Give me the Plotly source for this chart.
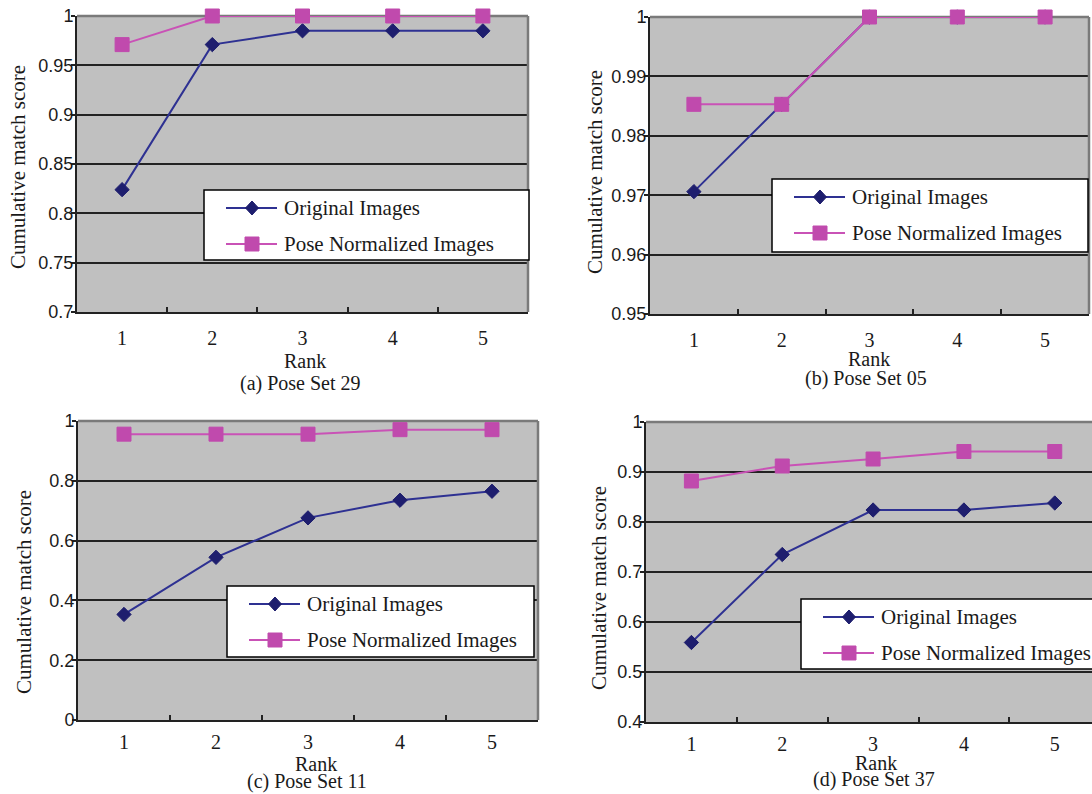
import plotly.graph_objects as go

W, H = 1092, 794

# ---- data -------------------------------------------------------------
ranks = ["1", "2", "3", "4", "5"]
series_names = ["Original Images", "Pose Normalized Images"]
captions = ["(a) Pose Set 29", "(b) Pose Set 05", "(c) Pose Set 11", "(d) Pose Set 37"]

orig_29 = [0.824, 0.971, 0.985, 0.985, 0.985]
norm_29 = [0.971, 1.0, 1.0, 1.0, 1.0]

orig_05 = [0.9706, 0.9853, 1.0, 1.0, 1.0]
norm_05 = [0.9853, 0.9853, 1.0, 1.0, 1.0]

orig_11 = [0.353, 0.544, 0.676, 0.735, 0.765]
norm_11 = [0.956, 0.956, 0.956, 0.971, 0.971]

orig_37 = [0.559, 0.735, 0.824, 0.824, 0.838]
norm_37 = [0.882, 0.912, 0.926, 0.941, 0.941]

yticks_29 = [0.7, 0.75, 0.8, 0.85, 0.9, 0.95, 1.0]
ylabels_29 = ["0.7", "0.75", "0.8", "0.85", "0.9", "0.95", "1"]
yticks_05 = [0.95, 0.96, 0.97, 0.98, 0.99, 1.0]
ylabels_05 = ["0.95", "0.96", "0.97", "0.98", "0.99", "1"]
yticks_11 = [0, 0.2, 0.4, 0.6, 0.8, 1.0]
ylabels_11 = ["0", "0.2", "0.4", "0.6", "0.8", "1"]
yticks_37 = [0.4, 0.5, 0.6, 0.7, 0.8, 0.9, 1.0]
ylabels_37 = ["0.4", "0.5", "0.6", "0.7", "0.8", "0.9", "1"]

# ---- styling ----------------------------------------------------------
BLUE_LINE = "#2E3192"
BLUE_MARK = "#1E1E6E"
PINK_LINE = "#C952B6"
PINK_MARK = "#C04AAD"
PLOT_BG = "#C0C0C0"
AXIS_DARK = "#222222"
BORDER_GRAY = "#7A7A7A"
SERIF = "Liberation Serif"
SANS = "Liberation Sans"
TEXT = "#1A1A1A"


def fx(px):
    return px / W


def fy(py):
    return 1 - py / H


# panel geometry in pixels: plot box, visible x-range end, label anchors, legend box
panels = [
    dict(orig=orig_29, norm=norm_29, ticks=yticks_29, labels=ylabels_29,
         box=(77, 16, 528, 312), xend=4.5, standoff=7,
         ytitle=(18, 167), rank=(305, 361), cap=(300, 383),
         legend=(204, 190, 529, 260)),
    dict(orig=orig_05, norm=norm_05, ticks=yticks_05, labels=ylabels_05,
         box=(650, 17, 1089, 314), xend=4.5, standoff=7,
         ytitle=(595, 172), rank=(869, 359), cap=(866, 379),
         legend=(772, 179, 1088, 252)),
    dict(orig=orig_11, norm=norm_11, ticks=yticks_11, labels=ylabels_11,
         box=(78, 421, 538, 720), xend=4.5, standoff=3,
         ytitle=(24, 592), rank=(316, 764), cap=(307, 781),
         legend=(227, 586, 534, 657)),
    dict(orig=orig_37, norm=norm_37, ticks=yticks_37, labels=ylabels_37,
         box=(646, 422, 1100, 722), xend=4.41, standoff=3,
         ytitle=(599, 588), rank=(876, 763), cap=(874, 779),
         legend=(801, 599, 1100, 669)),
]

fig = go.Figure()
shapes = []
annotations = []
layout_axes = {}

for i, p in enumerate(panels, start=1):
    sfx = "" if i == 1 else str(i)
    xa, ya = "x" + sfx, "y" + sfx
    x0, y0, x1, y1 = p["box"]

    fig.add_trace(go.Scatter(
        x=ranks, y=p["orig"], name=series_names[0], mode="lines+markers",
        xaxis=xa, yaxis=ya, showlegend=False, cliponaxis=False,
        line=dict(color=BLUE_LINE, width=2),
        marker=dict(symbol="diamond", size=11, color=BLUE_MARK,
                    line=dict(color=BLUE_MARK, width=1)),
    ))
    fig.add_trace(go.Scatter(
        x=ranks, y=p["norm"], name=series_names[1], mode="lines+markers",
        xaxis=xa, yaxis=ya, showlegend=False, cliponaxis=False,
        line=dict(color=PINK_LINE, width=2),
        marker=dict(symbol="square", size=14, color=PINK_MARK,
                    line=dict(color=PINK_MARK, width=1)),
    ))

    layout_axes["xaxis" + sfx] = dict(
        domain=[fx(x0), fx(min(x1, W))], anchor=ya, type="category",
        range=[-0.5, p["xend"]], showgrid=False, zeroline=False,
        automargin=False,
        showline=True, linecolor=AXIS_DARK, linewidth=2,
        ticks="inside", tickson="boundaries", ticklen=5, tickwidth=1.5,
        tickcolor=AXIS_DARK, ticklabelstandoff=p["standoff"],
        tickfont=dict(family=SERIF, size=20, color=TEXT),
    )
    layout_axes["yaxis" + sfx] = dict(
        domain=[fy(y1), fy(y0)], anchor=xa,
        range=[p["ticks"][0], p["ticks"][-1]],
        tickmode="array", tickvals=p["ticks"], ticktext=p["labels"],
        automargin=False,
        showgrid=True, gridcolor=AXIS_DARK, gridwidth=1.8, zeroline=False,
        showline=True, linecolor=AXIS_DARK, linewidth=2,
        ticks="outside", ticklen=4, tickwidth=1.5, tickcolor=AXIS_DARK,
        ticklabelstandoff=-6,
        tickfont=dict(family=SANS, size=18, color=TEXT),
    )

    # gray frame along the top and right edges of the plot area
    shapes.append(dict(
        type="line", xref="paper", yref="paper",
        x0=fx(x0), x1=fx(min(x1, W)), y0=fy(y0), y1=fy(y0),
        line=dict(color=BORDER_GRAY, width=2.5), layer="below",
    ))
    if x1 <= W:
        shapes.append(dict(
            type="line", xref="paper", yref="paper",
            x0=fx(x1), x1=fx(x1), y0=fy(y0), y1=fy(y1),
            line=dict(color=BORDER_GRAY, width=2.5), layer="above",
        ))

    # axis titles and caption
    annotations.append(dict(
        text="Cumulative match score", textangle=-90, showarrow=False,
        xref="paper", yref="paper", x=fx(p["ytitle"][0]), y=fy(p["ytitle"][1]),
        xanchor="center", yanchor="middle",
        font=dict(family=SERIF, size=21, color=TEXT),
    ))
    annotations.append(dict(
        text="Rank", showarrow=False, xref="paper", yref="paper",
        x=fx(p["rank"][0]), y=fy(p["rank"][1]), xanchor="center", yanchor="middle",
        font=dict(family=SERIF, size=20, color=TEXT),
    ))
    annotations.append(dict(
        text=captions[i - 1], showarrow=False, xref="paper", yref="paper",
        x=fx(p["cap"][0]), y=fy(p["cap"][1]), xanchor="center", yanchor="middle",
        font=dict(family=SERIF, size=20, color=TEXT),
    ))

    # legend box
    lx0, ly0, lx1, ly1 = p["legend"]
    shapes.append(dict(
        type="rect", xref="paper", yref="paper",
        x0=fx(lx0), x1=fx(lx1), y0=fy(ly1), y1=fy(ly0),
        fillcolor="white", line=dict(color="black", width=1.5), layer="above",
    ))
    rows = [ly0 + 18, ly0 + 54]
    colors = [(BLUE_LINE, BLUE_MARK), (PINK_LINE, PINK_MARK)]
    for k, ry in enumerate(rows):
        lc, mc = colors[k]
        shapes.append(dict(
            type="line", xref="paper", yref="paper",
            x0=fx(lx0 + 22), x1=fx(lx0 + 73), y0=fy(ry), y1=fy(ry),
            line=dict(color=lc, width=2), layer="above",
        ))
        cx = lx0 + 48
        if k == 0:
            path = "M {:.5f},{:.5f} L {:.5f},{:.5f} L {:.5f},{:.5f} L {:.5f},{:.5f} Z".format(
                fx(cx - 6.5), fy(ry), fx(cx), fy(ry - 7),
                fx(cx + 6.5), fy(ry), fx(cx), fy(ry + 7))
            shapes.append(dict(type="path", xref="paper", yref="paper", path=path,
                               fillcolor=mc, line=dict(color=mc, width=1), layer="above"))
        else:
            shapes.append(dict(
                type="rect", xref="paper", yref="paper",
                x0=fx(cx - 7), x1=fx(cx + 7), y0=fy(ry + 7), y1=fy(ry - 7),
                fillcolor=mc, line=dict(color=mc, width=1), layer="above",
            ))
        annotations.append(dict(
            text=series_names[k], showarrow=False, xref="paper", yref="paper",
            x=fx(lx0 + 78), y=fy(ry), xanchor="left", yanchor="middle",
            font=dict(family=SERIF, size=21, color=TEXT),
        ))

fig.update_layout(
    width=W, height=H, margin=dict(l=0, r=0, t=0, b=0, autoexpand=False),
    paper_bgcolor="white", plot_bgcolor=PLOT_BG,
    showlegend=False, shapes=shapes, annotations=annotations,
    **layout_axes,
)

fig.write_html("out.html")
